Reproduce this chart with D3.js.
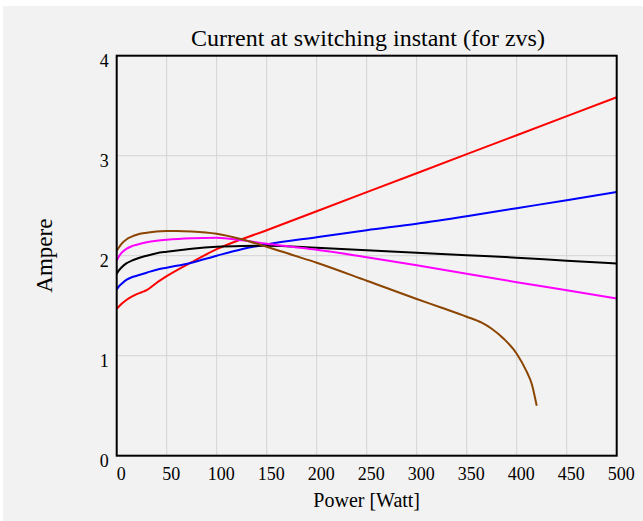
<!DOCTYPE html>
<html>
<head>
<meta charset="utf-8">
<script src="https://cdn.jsdelivr.net/npm/d3@7/dist/d3.min.js"></script>
<style>
  body { margin: 0; background: #fff; }
  text { font-family: "Liberation Serif", "Times New Roman", serif; fill: #000; }
</style>
</head>
<body>
<div id="chart"></div>
<script>

// power in watt, current in ampere
const redPower = [0, 2, 5, 10, 15, 20, 25, 30, 40, 50, 75, 100, 150, 200, 300, 400, 500]
const redAmp = [1.47, 1.49, 1.52, 1.56, 1.59, 1.615, 1.635, 1.655, 1.73, 1.795, 1.935, 2.065, 2.255, 2.445, 2.825, 3.205, 3.585]

const bluePower = [0, 2, 5, 10, 15, 20, 30, 40, 50, 75, 100, 125, 150, 200, 250, 300, 350, 400, 450, 500]
const blueAmp = [1.66, 1.69, 1.72, 1.76, 1.785, 1.80, 1.83, 1.86, 1.88, 1.93, 2.0, 2.065, 2.113, 2.185, 2.255, 2.32, 2.395, 2.475, 2.555, 2.637]

const blackPower = [0, 2, 5, 10, 15, 20, 30, 40, 50, 75, 100, 125, 150, 200, 250, 300, 350, 400, 450, 500]
const blackAmp = [1.82, 1.85, 1.885, 1.925, 1.95, 1.97, 2.0, 2.025, 2.04, 2.07, 2.09, 2.098, 2.1, 2.08, 2.055, 2.03, 2.005, 1.98, 1.95, 1.923]

const magentaPower = [0, 2, 5, 10, 15, 20, 30, 40, 50, 75, 100, 125, 150, 175, 200, 250, 300, 350, 400, 450, 500]
const magentaAmp = [1.95, 1.99, 2.03, 2.07, 2.095, 2.11, 2.135, 2.15, 2.16, 2.175, 2.18, 2.155, 2.12, 2.09, 2.06, 1.985, 1.905, 1.82, 1.735, 1.655, 1.573]

const brownPower = [0, 2, 5, 10, 15, 20, 30, 40, 50, 60, 75, 100, 125, 150, 175, 200, 250, 300, 325, 350, 365, 375, 387, 400, 410, 415, 420]
const brownAmp = [2.05, 2.08, 2.12, 2.165, 2.19, 2.21, 2.23, 2.243, 2.247, 2.248, 2.243, 2.22, 2.165, 2.09, 2.01, 1.93, 1.75, 1.567, 1.48, 1.39, 1.33, 1.27, 1.17, 1.02, 0.84, 0.72, 0.5]

const xTicks = [0, 50, 100, 150, 200, 250, 300, 350, 400, 450, 500]
const yTicks = [0, 1, 2, 3, 4]

const series = [
  {name: 'red', power: redPower, amp: redAmp, color: '#ff0000'},
  {name: 'blue', power: bluePower, amp: blueAmp, color: '#0000ff'},
  {name: 'black', power: blackPower, amp: blackAmp, color: '#000000'},
  {name: 'magenta', power: magentaPower, amp: magentaAmp, color: '#ff00ff'},
  {name: 'brown', power: brownPower, amp: brownAmp, color: '#8b4500'}
]

const serif = '"Liberation Serif", "Times New Roman", serif'

const width = 643
const height = 521
const margin = {top: 55.7, right: 26.3, bottom: 65.3, left: 116.7}

const svg = d3.select('#chart')
.append('svg')
.attr('width', width)
.attr('height', height)

svg.append('rect')
.attr('x', 3)
.attr('y', 6)
.attr('width', width - 3)
.attr('height', height - 6)
.attr('fill', '#f2f2f2')

const x = d3.scaleLinear()
.domain([0, 500])
.range([margin.left, width - margin.right])

const y = d3.scaleLinear()
.domain([0, 4])
.range([height - margin.bottom, margin.top])

const grid = svg.append('g')

grid.selectAll('.vgrid')
.data(xTicks.slice(1, -1))
.enter()
.append('line')
.attr('x1', d => x(d))
.attr('x2', d => x(d))
.attr('y1', y(0))
.attr('y2', y(4))
.attr('stroke', '#d3d3d3')
.attr('stroke-width', 1)

grid.selectAll('.hgrid')
.data(yTicks.slice(1, -1))
.enter()
.append('line')
.attr('x1', x(0))
.attr('x2', x(500))
.attr('y1', d => y(d))
.attr('y2', d => y(d))
.attr('stroke', '#d3d3d3')
.attr('stroke-width', 1)

const line = d3.line()
.x(d => x(d[0]))
.y(d => y(d[1]))
.curve(d3.curveMonotoneX)

svg.append('g')
.selectAll('path')
.data(series)
.enter()
.append('path')
.attr('d', d => line(d.power.map((p, i) => [p, d.amp[i]])))
.attr('fill', 'none')
.attr('stroke', d => d.color)
.attr('stroke-width', 2)

// frame
svg.append('rect')
.attr('x', x(0))
.attr('y', y(4))
.attr('width', x(500) - x(0))
.attr('height', y(0) - y(4))
.attr('fill', 'none')
.attr('stroke', '#000')
.attr('stroke-width', 2)

svg.append('g')
.selectAll('text')
.data(xTicks)
.enter()
.append('text')
.attr('x', d => x(d) + 4.5)
.attr('y', y(0) + 24)
.attr('text-anchor', 'middle')
.attr('font-family', serif)
.style('font-size', '18px')
.text(d => d)

svg.append('g')
.selectAll('text')
.data(yTicks)
.enter()
.append('text')
.attr('x', x(0) - 8)
.attr('y', d => y(d) + 11)
.attr('text-anchor', 'end')
.attr('font-family', serif)
.style('font-size', '18px')
.text(d => d)

svg.append('text')
.attr('x', 368)
.attr('y', 46)
.attr('text-anchor', 'middle')
.attr('font-family', serif)
.style('font-size', '24px')
.text('Current at switching instant (for zvs)')

svg.append('text')
.attr('x', (x(0) + x(500)) / 2)
.attr('y', 507)
.attr('text-anchor', 'middle')
.attr('font-family', serif)
.style('font-size', '20px')
.text('Power [Watt]')

svg.append('text')
.attr('transform', `translate(52, ${(y(0) + y(4)) / 2}) rotate(-90)`)
.attr('text-anchor', 'middle')
.attr('font-family', serif)
.style('font-size', '23px')
.text('Ampere')

</script>
</body>
</html>
